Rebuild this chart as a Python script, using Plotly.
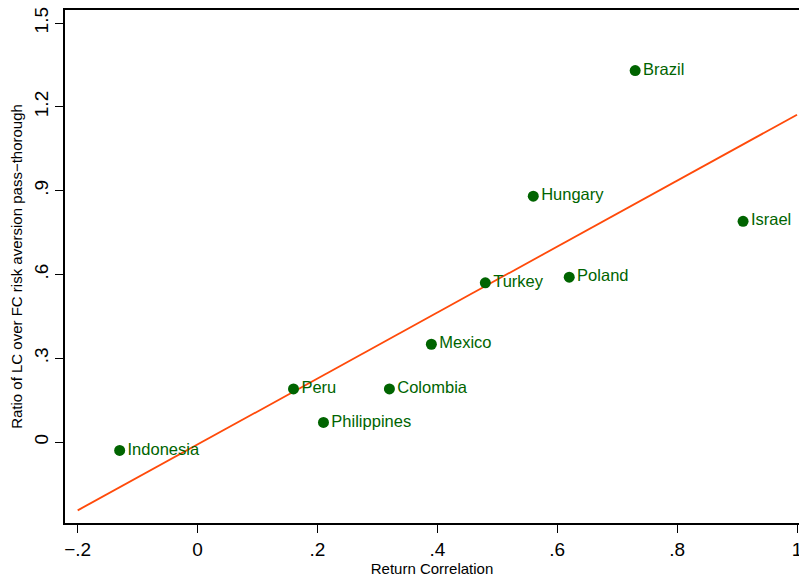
import numpy as np
import plotly.graph_objects as go

countries = ["Indonesia", "Peru", "Philippines", "Colombia", "Mexico",
             "Turkey", "Hungary", "Poland", "Brazil", "Israel"]
return_corr = [-0.13, 0.16, 0.21, 0.32, 0.39, 0.48, 0.56, 0.62, 0.73, 0.91]
ratio_lc_fc = [-0.03, 0.19, 0.07, 0.19, 0.35, 0.57, 0.88, 0.59, 1.33, 0.79]

x_tickvals = [-0.2, 0, 0.2, 0.4, 0.6, 0.8, 1.0]
x_ticktext = ["\u2212.2", "0", ".2", ".4", ".6", ".8", "1"]
y_tickvals = [0, 0.3, 0.6, 0.9, 1.2, 1.5]
y_ticktext = ["0", ".3", ".6", ".9", "1.2", "1.5"]

# OLS fit line
slope, intercept = np.polyfit(return_corr, ratio_lc_fc, 1)
fit_x = np.array([-0.2, 1.0])
fit_y = intercept + slope * fit_x

FONT = "Liberation Sans, Arial, Helvetica, sans-serif"
GREEN = "#006400"
ORANGE = "#FF4A0A"

fig = go.Figure()
fig.add_trace(go.Scatter(
    x=fit_x, y=fit_y, mode="lines",
    line=dict(color=ORANGE, width=1.8),
    showlegend=False, hoverinfo="skip",
))
fig.add_trace(go.Scatter(
    x=return_corr, y=ratio_lc_fc, mode="markers+text",
    text=countries, textposition="middle right",
    marker=dict(color=GREEN, size=11),
    textfont=dict(color=GREEN, size=16.5, family=FONT),
    showlegend=False, hoverinfo="skip", cliponaxis=False,
))

fig.update_layout(
    width=799, height=578,
    margin=dict(l=65, r=0, t=10, b=55, autoexpand=False),
    paper_bgcolor="white", plot_bgcolor="white",
    font=dict(family=FONT, color="black"),
    xaxis=dict(
        range=[-0.2212, 1.0033],
        tickvals=x_tickvals, ticktext=x_ticktext,
        ticks="outside", ticklen=8, tickcolor="black", tickwidth=1,
        tickfont=dict(size=19, family=FONT), ticklabeloverflow="allow",
        showgrid=False, zeroline=False, automargin=False,
        showline=True, linecolor="black", linewidth=1.5, mirror=True,
        title=dict(text="Return Correlation", font=dict(size=15, family=FONT), standoff=0),
    ),
    yaxis=dict(
        range=[-0.29, 1.5467],
        tickvals=y_tickvals, ticktext=y_ticktext,
        ticks="outside", ticklen=8, tickcolor="black", tickwidth=1,
        tickangle=-90,
        tickfont=dict(size=19, family=FONT), ticklabeloverflow="allow",
        showgrid=False, zeroline=False, automargin=False,
        showline=True, linecolor="black", linewidth=1.5,
        title=dict(text="Ratio of LC over FC risk aversion pass\u2212thorough",
                   font=dict(size=15, family=FONT), standoff=4),
    ),
)

fig.write_html(
    "out.html",
    config={"displayModeBar": False},
    post_script="document.body.style.margin='0';document.body.style.overflow='hidden';",
)
